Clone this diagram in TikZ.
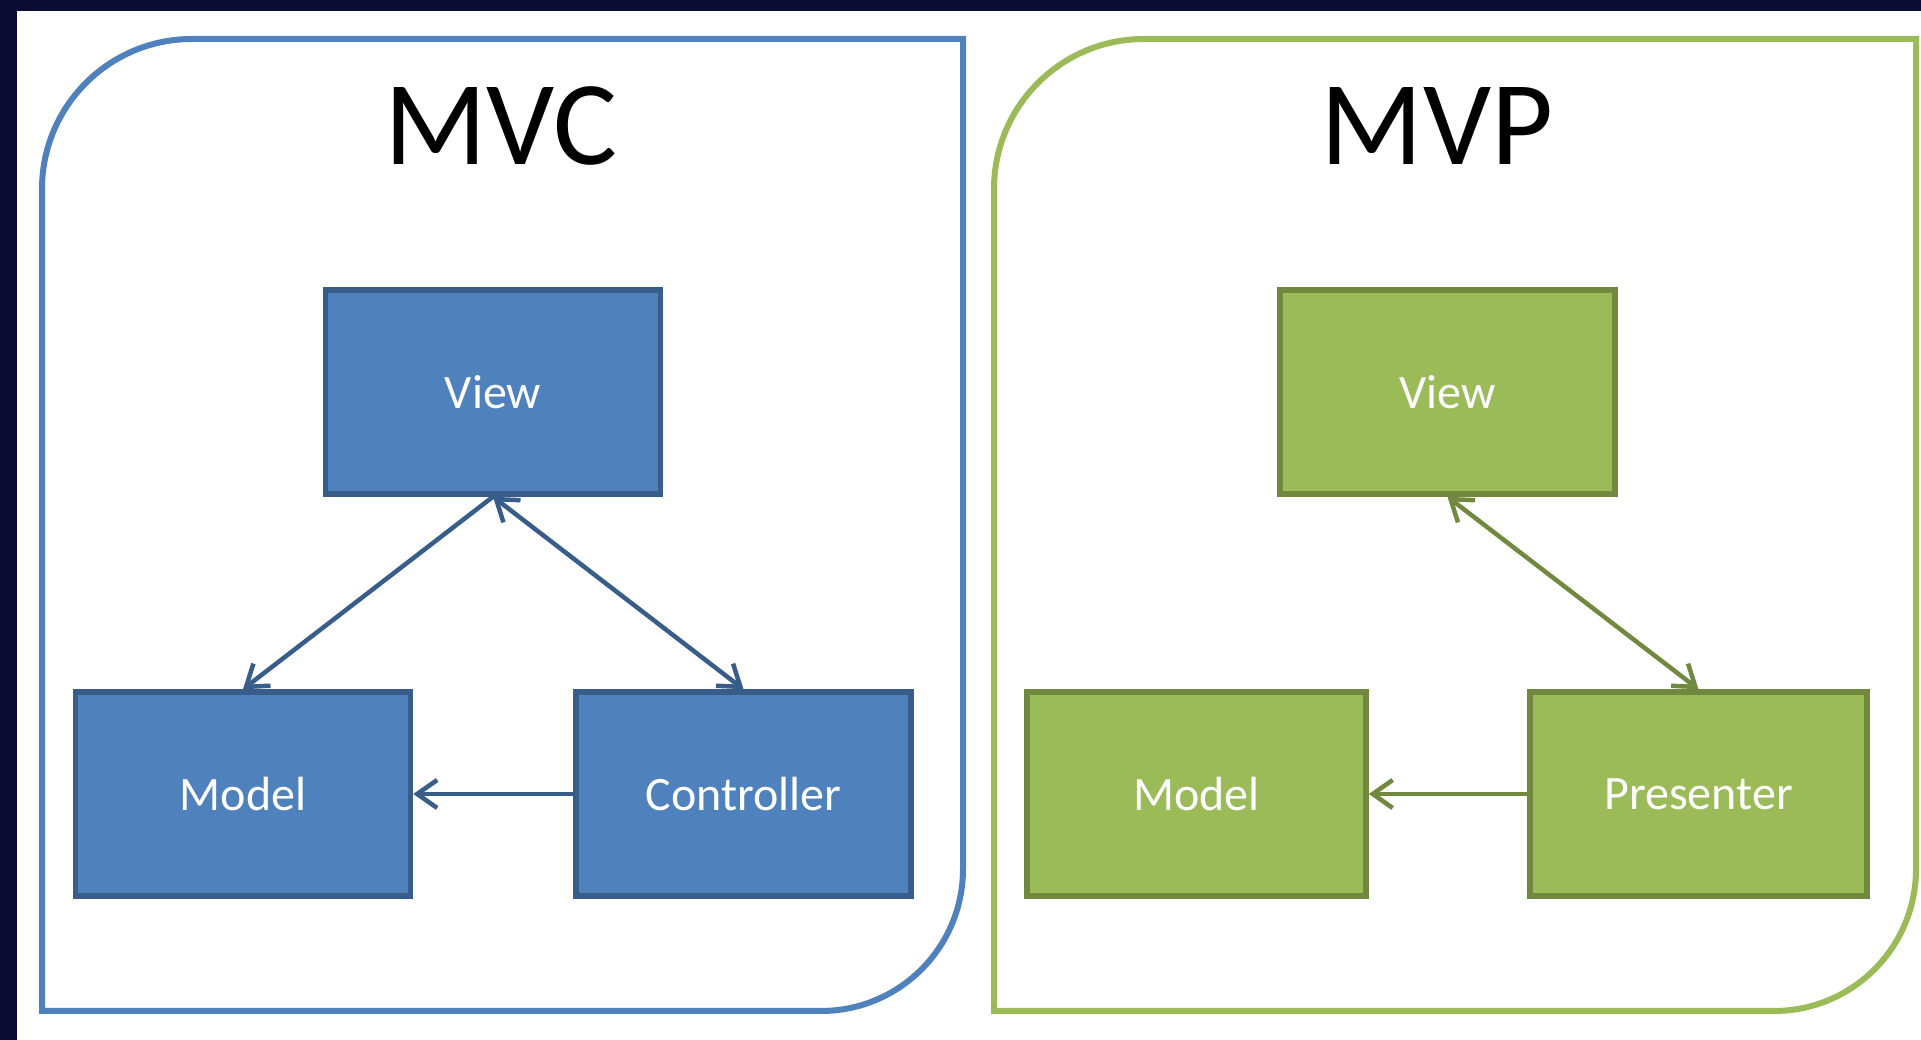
\documentclass[tikz,border=0pt]{standalone}
\usepackage{fontspec}
\setmainfont{Carlito}
\usetikzlibrary{arrows.meta}
\definecolor{navy}{HTML}{0C0C33}
\definecolor{mvcblue}{HTML}{4F81BD}
\definecolor{mvcedge}{HTML}{385D8A}
\definecolor{mvpgreen}{HTML}{9BBB59}
\definecolor{mvpedge}{HTML}{71893F}
\begin{document}
\begin{tikzpicture}[x=1pt,y=1pt,
        box/.style={line width=5.5pt,minimum width=335pt,minimum height=204pt,text=white,font=\fontsize{48}{48}\selectfont},
        mvcbox/.style={box,draw=mvcedge,fill=mvcblue},
        mvpbox/.style={box,draw=mvpedge,fill=mvpgreen},
        title/.style={anchor=base,font=\fontsize{120}{120}\selectfont},
        barb/.tip={Straight Barb[length=20pt,width=28pt]},
        arr/.style={line width=4.5pt,-barb},
        dblarr/.style={line width=4.5pt,barb-barb}]
        \useasboundingbox (0,0) rectangle (1921,1040);
        \fill[navy] (0,0) rectangle (1921,1040);
        \fill[white] (17,0) rectangle (1921,1029);

        % frames
        \draw[mvcblue,line width=6pt] (42,29) -- (42,851) arc[start angle=180,end angle=90,radius=150]
            -- (963,1001) -- (963,171) arc[start angle=0,end angle=-90,radius=142] -- cycle;
        \draw[mvpgreen,line width=6pt] (994,29) -- (994,851) arc[start angle=180,end angle=90,radius=150]
            -- (1916,1001) -- (1916,171) arc[start angle=0,end angle=-90,radius=142] -- cycle;

        \node[title] (mvc) at (501,875) {MVC};
        \node[title] (mvp) at (1437,875) {MVP};

        % MVC
        \node[mvcbox] (cv) at (493,648) {View};
        \node[mvcbox] (cm) at (243,246) {Model};
        \node[mvcbox] (cc) at (743.5,246) {Controller};

        \draw[arr,mvcedge] (cv.south) -- (cm.north);
        \draw[dblarr,mvcedge] (cv.south) -- (cc.north);
        \draw[arr,mvcedge] (cc.west) -- (cm.east);

        % MVP
        \node[mvpbox] (pv) at (1447.5,648) {View};
        \node[mvpbox,minimum width=339pt] (pm) at (1196.5,246) {Model};
        \node[mvpbox,minimum width=337pt] (pp) at (1698.5,246) {Presenter};

        \draw[dblarr,mvpedge] (pv.south) -- (pp.north);
        \draw[arr,mvpedge] (pp.west) -- (pm.east);
    \end{tikzpicture}
\end{document}
